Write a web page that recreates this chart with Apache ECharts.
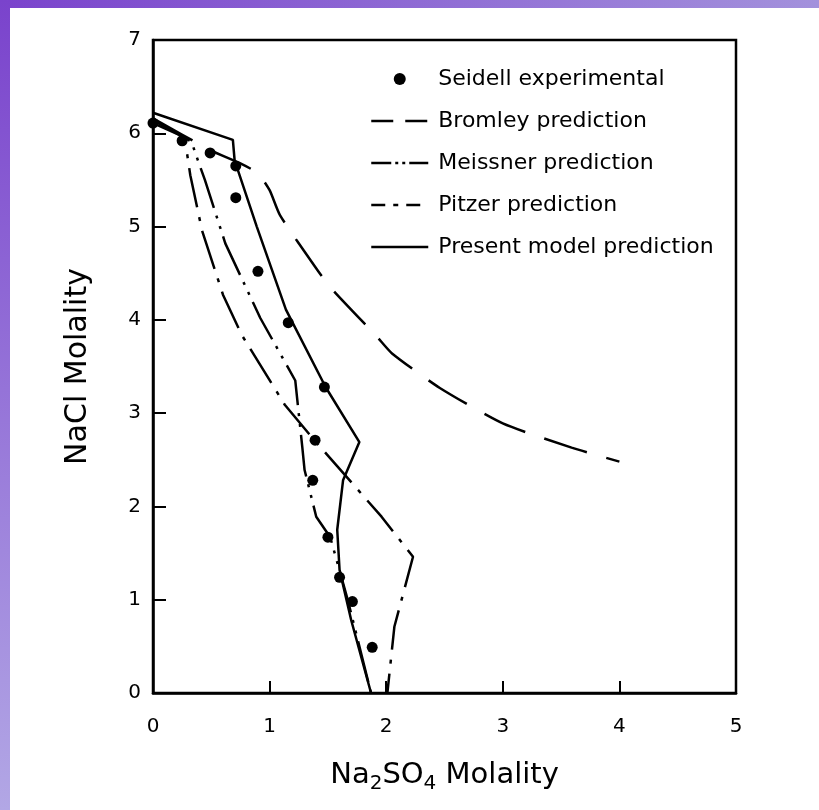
<!DOCTYPE html>
<html>
<head>
<meta charset="utf-8">
<script src="https://cdn.jsdelivr.net/npm/echarts@6/dist/echarts.min.js"></script>
<style>
html,body{margin:0;padding:0;background:#fff;}
#c{width:819px;height:810px;}
</style>
</head>
<body>
<div id="c"></div>
<script>
// Data: [Na2SO4 molality, NaCl molality]
const seidell = [[0,6.11],[0.25,5.92],[0.49,5.79],[0.71,5.65],[0.71,5.31],[0.90,4.52],[1.16,3.97],[1.47,3.28],[1.39,2.71],[1.37,2.28],[1.50,1.67],[1.60,1.24],[1.71,0.98],[1.88,0.49]];
const bromley = [[0,6.16],[0.49,5.82],[0.745,5.68],[0.90,5.57],[1.0,5.39],[1.09,5.12],[1.39,4.57],[1.52,4.35],[1.92,3.82],[2.05,3.64],[2.46,3.27],[3.0,2.89],[3.59,2.63],[4.0,2.48]];
const meissner = [[0,6.14],[0.33,5.91],[0.385,5.71],[0.445,5.50],[0.62,4.82],[0.92,4.02],[1.22,3.35],[1.28,2.64],[1.30,2.39],[1.40,1.89],[1.52,1.67],[1.67,1.0],[1.87,0]];
const pitzer = [[0,6.11],[0.23,5.98],[0.29,5.80],[0.32,5.55],[0.42,4.96],[0.60,4.27],[0.76,3.84],[1.13,3.09],[1.37,2.73],[1.96,1.89],[2.23,1.46],[2.07,0.71],[2.01,0]];
const present = [[0,6.22],[0.685,5.93],[0.70,5.71],[0.89,5.00],[1.14,4.11],[1.48,3.28],[1.77,2.69],[1.63,2.28],[1.58,1.75],[1.60,1.32],[1.70,0.78],[1.87,0]];
const seriesNames = ['Seidell experimental','Bromley prediction','Meissner prediction','Pitzer prediction','Present model prediction'];

const chart = echarts.init(document.getElementById('c'), null, {renderer:'canvas'});
const FONT = "'DejaVu Sans', 'Liberation Sans', Arial, sans-serif";
const LW = 2.5;
const dashB = [45,20], dashM = [42,8,3,8,3,8], dashP = [40,10,4,10];
const hideSym = {opacity:0};

chart.setOption({
  animation:false,
  backgroundColor:'#fff',
  graphic:[
    {type:'rect', shape:{x:0,y:0,width:819,height:8}, style:{fill:new echarts.graphic.LinearGradient(0,0,1,0,[{offset:0,color:'#7a43cc'},{offset:1,color:'#a391dc'}])}, silent:true, z:100},
    {type:'rect', shape:{x:0,y:0,width:10,height:810}, style:{fill:new echarts.graphic.LinearGradient(0,0,0,1,[{offset:0,color:'#7a43cc'},{offset:1,color:'#b2a7e5'}])}, silent:true, z:100}
  ],
  grid:{left:153, right:83, top:40, bottom:117, show:true, borderColor:'#000', borderWidth:2.5, backgroundColor:'transparent'},
  legend:{
    orient:'vertical', left:365, top:63, itemWidth:57, itemHeight:12, itemGap:20,
    textStyle:{fontFamily:FONT, fontSize:22, color:'#000', padding:[0,0,0,5]},
    data:[
      {name:seriesNames[0], icon:'circle', itemStyle:{color:'#000', opacity:1}},
      {name:seriesNames[1], itemStyle:hideSym, lineStyle:{type:[22,12], width:LW, color:'#000'}},
      {name:seriesNames[2], itemStyle:hideSym, lineStyle:{type:[20,4,3,4,3,4], width:LW, color:'#000'}},
      {name:seriesNames[3], itemStyle:hideSym, lineStyle:{type:[14,8,5,8], width:LW, color:'#000'}},
      {name:seriesNames[4], itemStyle:hideSym, lineStyle:{type:'solid', width:LW, color:'#000'}}
    ]
  },
  xAxis:{
    type:'value', min:0, max:5, interval:1,
    name:'{a|Na}{s|2}{a|SO}{s|4}{a| Molality}', nameLocation:'middle', nameGap:63,
    nameTextStyle:{fontFamily:FONT, color:'#000', rich:{a:{fontSize:29, fontFamily:FONT, color:'#000', lineHeight:38, verticalAlign:'middle'}, s:{fontSize:20, fontFamily:FONT, color:'#000', lineHeight:38, verticalAlign:'bottom', padding:[17,0,0,0]}}},
    axisLine:{show:true, lineStyle:{color:'#000', width:2.5}},
    axisTick:{show:true, inside:true, length:12, lineStyle:{color:'#000', width:2}},
    axisLabel:{fontFamily:FONT, fontSize:20, color:'#000', margin:24},
    splitLine:{show:false}
  },
  yAxis:{
    type:'value', min:0, max:7, interval:1,
    name:'NaCl Molality', nameLocation:'middle', nameGap:60,
    nameTextStyle:{fontFamily:FONT, fontSize:30, color:'#000'},
    axisLine:{show:true, lineStyle:{color:'#000', width:2.5}},
    axisTick:{show:true, inside:true, length:13, lineStyle:{color:'#000', width:2}},
    axisLabel:{fontFamily:FONT, fontSize:20, color:'#000', margin:12},
    splitLine:{show:false}
  },
  series:[
    {name:seriesNames[0], type:'scatter', data:seidell, symbol:'circle', symbolSize:11, itemStyle:{color:'#000', opacity:1}, z:5},
    {name:seriesNames[1], type:'line', data:bromley, symbol:'none', smooth:0.2, lineStyle:{color:'#000', width:LW, type:dashB}},
    {name:seriesNames[2], type:'line', data:meissner, symbol:'none', lineStyle:{color:'#000', width:LW, type:dashM}},
    {name:seriesNames[3], type:'line', data:pitzer, symbol:'none', lineStyle:{color:'#000', width:LW, type:dashP}},
    {name:seriesNames[4], type:'line', data:present, symbol:'none', lineStyle:{color:'#000', width:LW, type:'solid'}}
  ]
});
</script>
</body>
</html>
